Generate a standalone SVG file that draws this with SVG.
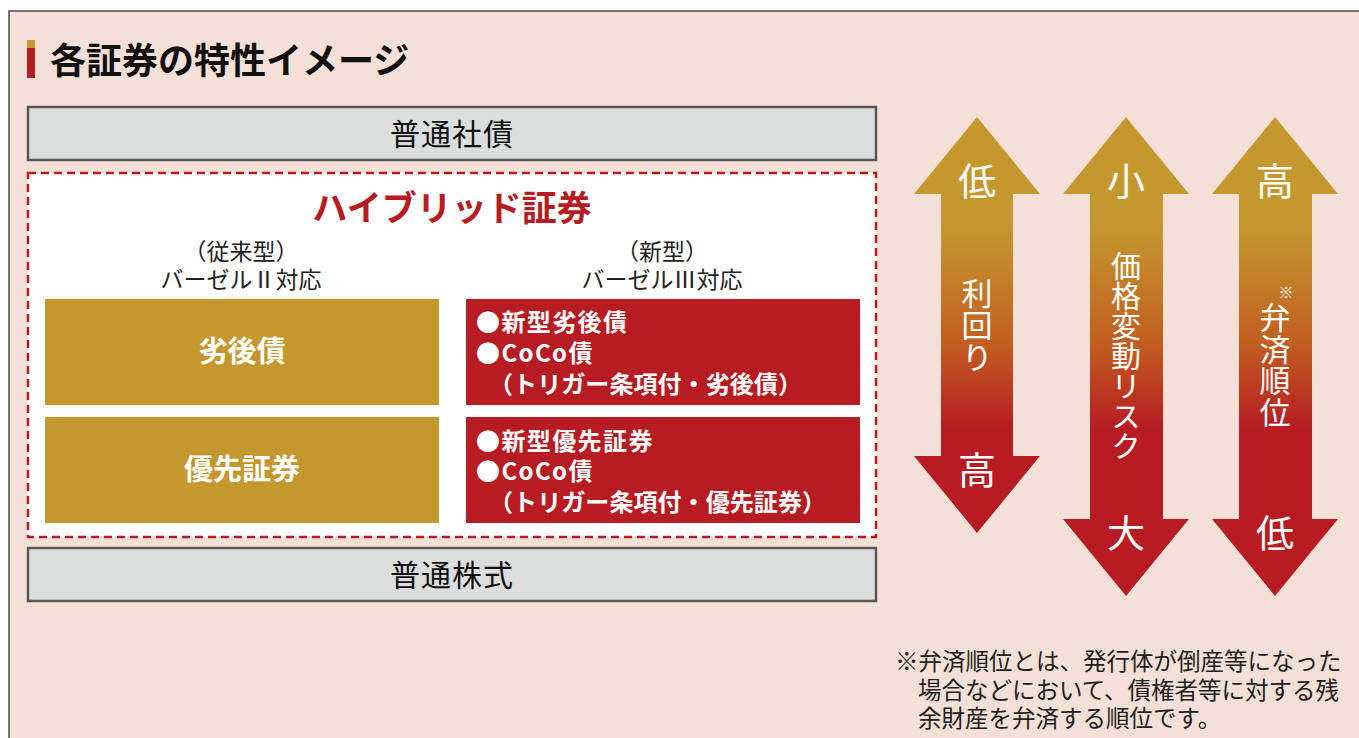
<svg xmlns="http://www.w3.org/2000/svg" width="1359" height="738" viewBox="0 0 1359 738">
<defs>
<linearGradient id="arrowGrad" gradientUnits="userSpaceOnUse" x1="0" y1="117" x2="0" y2="596">
<stop offset="0" stop-color="#c4982f"/>
<stop offset="0.23" stop-color="#c4982f"/>
<stop offset="0.47" stop-color="#c15f20"/>
<stop offset="0.65" stop-color="#b71c23"/>
<stop offset="1" stop-color="#b71c23"/>
</linearGradient>
<style>
text{font-family:"Noto Sans CJK JP","Noto Sans",sans-serif;}
.gray{fill:#dcdddd;stroke:#595757;stroke-width:2.5;}
.gtxt{font-size:30px;fill:#111;text-anchor:middle;letter-spacing:1px;}
.sub{font-size:23px;fill:#222;text-anchor:middle;}
.gold{fill:#c4972f;}
.red{fill:#b71c23;}
.wb{fill:#fff;font-weight:bold;}
.rt{font-size:24px;fill:#fff;font-weight:bold;letter-spacing:1.4px;}
.rt3{font-size:24px;fill:#fff;font-weight:bold;}
.arr{fill:url(#arrowGrad);}
.big{font-size:38px;fill:#fff;text-anchor:middle;}
.vert{fill:#fff;writing-mode:vertical-rl;}
.note{font-size:23.5px;fill:#222;}
</style>
</defs>
<rect x="0" y="0" width="1359" height="738" fill="#ffffff"/>
<rect x="9" y="11" width="1400" height="800" fill="#f4e0d6" stroke="#4a4a4a" stroke-width="1.5"/>
<g id="title">
<rect x="27" y="40" width="8" height="8" fill="#c4972f"/>
<rect x="27" y="48" width="8" height="30" fill="#b71c23"/>
<text x="50" y="74" font-size="36" font-weight="bold" fill="#111">各証券の特性イメージ</text>
</g>
<g id="node-futsu-shasai">
<rect class="gray" x="28" y="107" width="848" height="53"/>
<text class="gtxt" x="452" y="145">普通社債</text>
</g>
<g id="node-hybrid">
<rect x="28" y="173" width="848" height="364" fill="#ffffff" stroke="#b71c23" stroke-width="2.5" stroke-dasharray="8,5"/>
<text x="452" y="221" font-size="35" font-weight="bold" fill="#b71c23" text-anchor="middle">ハイブリッド証券</text>
<text class="sub" x="241" y="260">（従来型）</text>
<text class="sub" x="241" y="288">バーゼルⅡ対応</text>
<text class="sub" x="662" y="260">（新型）</text>
<text class="sub" x="662" y="288">バーゼルⅢ対応</text>
</g>
<g id="node-retsugosai">
<rect class="gold" x="45" y="299" width="394" height="106"/>
<text class="wb" x="242" y="362" font-size="29" text-anchor="middle">劣後債</text>
</g>
<g id="node-yusen">
<rect class="gold" x="45" y="417" width="394" height="106"/>
<text class="wb" x="242" y="480" font-size="29" text-anchor="middle">優先証券</text>
</g>
<g id="node-new-retsugo">
<rect class="red" x="466" y="299" width="394" height="106"/>
<text class="rt" x="476" y="331">●新型劣後債</text>
<text class="rt" x="476" y="362">●CoCo債</text>
<text class="rt3" x="489" y="393" textLength="313" lengthAdjust="spacing">（トリガー条項付・劣後債）</text>
</g>
<g id="node-new-yusen">
<rect class="red" x="466" y="417" width="394" height="106"/>
<text class="rt" x="476" y="450">●新型優先証券</text>
<text class="rt" x="476" y="480">●CoCo債</text>
<text class="rt3" x="489" y="511" textLength="337" lengthAdjust="spacing">（トリガー条項付・優先証券）</text>
</g>
<g id="node-futsu-kabushiki">
<rect class="gray" x="28" y="548" width="848" height="53"/>
<text class="gtxt" x="452" y="586">普通株式</text>
</g>
<g id="arrow-yield">
<polygon class="arr" points="977,117 1040,194 1013,194 1013,456 1040,456 977,533 914,456 941,456 941,194 914,194"/>
<text class="big" x="977" y="195">低</text>
<text class="vert" x="977" y="278" font-size="31" letter-spacing="1">利回り</text>
<text class="big" x="977" y="484">高</text>
</g>
<g id="arrow-risk">
<polygon class="arr" points="1126,117 1189,194 1163,194 1163,519 1189,519 1126,596 1063,519 1090,519 1090,194 1063,194"/>
<text class="big" x="1126" y="195">小</text>
<text class="vert" x="1126" y="251" font-size="30">価格変動リスク</text>
<text class="big" x="1126" y="547">大</text>
</g>
<g id="arrow-priority">
<polygon class="arr" points="1275,117 1338,194 1312,194 1312,519 1338,519 1275,596 1212,519 1239,519 1239,194 1212,194"/>
<text class="big" x="1275" y="195">高</text>
<text x="1286" y="298" font-size="15" fill="#fff" text-anchor="middle">※</text>
<text class="vert" x="1275" y="302" font-size="31" letter-spacing="0.5">弁済順位</text>
<text class="big" x="1275" y="547">低</text>
</g>
<g id="connectors"></g>
<g id="footnote">
<text class="note" x="895" y="670">※弁済順位とは、発行体が倒産等になった</text>
<text class="note" x="918" y="699">場合などにおいて、債権者等に対する残</text>
<text class="note" x="918" y="727">余財産を弁済する順位です。</text>
</g>
</svg>
